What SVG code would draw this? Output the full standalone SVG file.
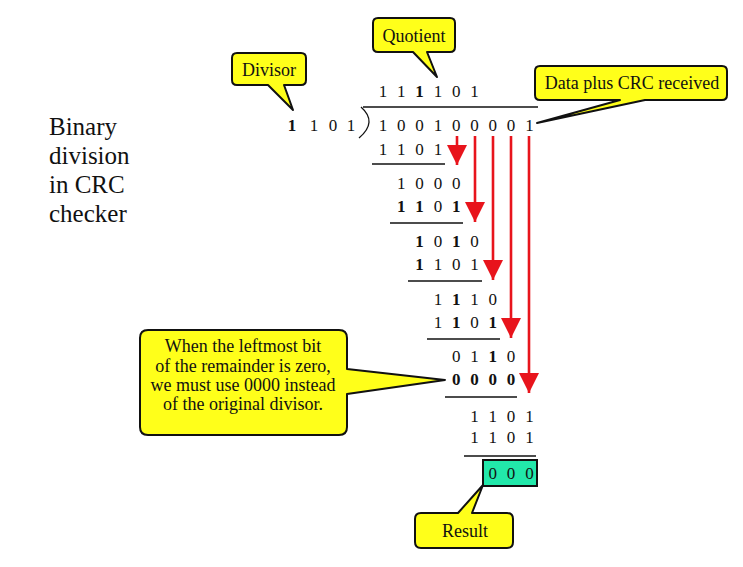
<svg xmlns="http://www.w3.org/2000/svg" width="743" height="567" viewBox="0 0 743 567">
<style>
  text{font-family:"Liberation Serif","DejaVu Serif",serif}
  .t{fill:#111}
  .d{font-size:17px;fill:#111;text-anchor:middle}
  .b{font-weight:bold}
  .call{fill:#ffff1a;stroke:#111;stroke-width:2;stroke-linejoin:round}
  .ct{font-size:18px;fill:#111;text-anchor:middle}
  .rule{stroke:#111;stroke-width:1.3;fill:none}
  .red{stroke:#e8141c;stroke-width:2.6;fill:none;marker-end:url(#ah)}
</style>
<defs>
  <marker id="ah" markerUnits="userSpaceOnUse" markerWidth="20" markerHeight="20" viewBox="0 0 20 20" refX="20" refY="10" orient="auto">
    <path d="M0,0 L20,10 L0,20 Z" fill="#e8141c"/>
  </marker>
</defs>
<rect width="743" height="567" fill="#fff"/>

<g id="title">
  <text class="t" font-size="25" x="49" y="135">Binary</text>
  <text class="t" font-size="25" x="49" y="164">division</text>
  <text class="t" font-size="25" x="49" y="193">in CRC</text>
  <text class="t" font-size="25" x="49" y="222">checker</text>
</g>

<g id="division">
  <path class="rule" d="M363,107 H538"/>
  <path class="rule" d="M361,107 Q378,122 359,138"/>
  <g id="divisor-digits">
    <text class="d b" x="292" y="131">1</text><text class="d" x="314" y="131">1</text><text class="d" x="333" y="131">0</text><text class="d" x="351" y="131">1</text>
  </g>
  <g id="quotient-digits">
    <text class="d" x="383" y="97">1</text><text class="d" x="401.3" y="97">1</text><text class="d b" x="419.6" y="97">1</text><text class="d" x="437.9" y="97">1</text><text class="d" x="456.2" y="97">0</text><text class="d" x="474.5" y="97">1</text>
  </g>
  <g id="dividend">
    <text class="d" x="383" y="131">1</text><text class="d" x="401.3" y="131">0</text><text class="d" x="419.6" y="131">0</text><text class="d" x="437.9" y="131">1</text><text class="d" x="456.2" y="131">0</text><text class="d" x="474.5" y="131">0</text><text class="d" x="492.8" y="131">0</text><text class="d" x="511.1" y="131">0</text><text class="d" x="529.4" y="131">1</text>
  </g>
  <g id="step1">
    <text class="d" x="383" y="155">1</text><text class="d" x="401.3" y="155">1</text><text class="d" x="419.6" y="155">0</text><text class="d" x="437.9" y="155">1</text>
    <path class="rule" d="M372,164 H445"/>
    <text class="d" x="401.3" y="189">1</text><text class="d" x="419.6" y="189">0</text><text class="d" x="437.9" y="189">0</text><text class="d" x="456.2" y="189">0</text>
  </g>
  <g id="step2">
    <text class="d b" x="401.3" y="212">1</text><text class="d b" x="419.6" y="212">1</text><text class="d" x="437.9" y="212">0</text><text class="d b" x="456.2" y="212">1</text>
    <path class="rule" d="M390,223 H463"/>
    <text class="d b" x="419.6" y="247">1</text><text class="d" x="437.9" y="247">0</text><text class="d b" x="456.2" y="247">1</text><text class="d" x="474.5" y="247">0</text>
  </g>
  <g id="step3">
    <text class="d b" x="419.6" y="270">1</text><text class="d" x="437.9" y="270">1</text><text class="d" x="456.2" y="270">0</text><text class="d" x="474.5" y="270">1</text>
    <path class="rule" d="M408,281 H482"/>
    <text class="d" x="437.9" y="305">1</text><text class="d b" x="456.2" y="305">1</text><text class="d" x="474.5" y="305">1</text><text class="d" x="492.8" y="305">0</text>
  </g>
  <g id="step4">
    <text class="d" x="437.9" y="328">1</text><text class="d b" x="456.2" y="328">1</text><text class="d" x="474.5" y="328">0</text><text class="d b" x="492.8" y="328">1</text>
    <path class="rule" d="M427,339 H500"/>
    <text class="d" x="456.2" y="362">0</text><text class="d" x="474.5" y="362">1</text><text class="d b" x="492.8" y="362">1</text><text class="d" x="511.1" y="362">0</text>
  </g>
  <g id="step5">
    <text class="d b" x="456.2" y="385">0</text><text class="d b" x="474.5" y="385">0</text><text class="d b" x="492.8" y="385">0</text><text class="d b" x="511.1" y="385">0</text>
    <path class="rule" d="M445,397 H517"/>
    <text class="d" x="474.5" y="422">1</text><text class="d" x="492.8" y="422">1</text><text class="d" x="511.1" y="422">0</text><text class="d" x="529.4" y="422">1</text>
  </g>
  <g id="step6">
    <text class="d" x="474.5" y="443">1</text><text class="d" x="492.8" y="443">1</text><text class="d" x="511.1" y="443">0</text><text class="d" x="529.4" y="443">1</text>
    <path class="rule" d="M464,456 H536" stroke="#555"/>
  </g>
  <g id="remainder">
    <rect x="483" y="460" width="54" height="26" fill="#22e8aa" stroke="#111" stroke-width="2"/>
    <text class="d" x="492.8" y="479">0</text><text class="d" x="511.1" y="479">0</text><text class="d" x="529.4" y="479">0</text>
  </g>
</g>

<g id="connectors">
  <path class="red" d="M457,136 V165"/>
  <path class="red" d="M475,136 V222"/>
  <path class="red" d="M493,136 V280"/>
  <path class="red" d="M511,136 V338"/>
  <path class="red" d="M529,136 V393"/>
</g>

<g id="quotient-callout">
  <path class="call" d="M378,18 H450 Q455,18 455,23 V47 Q455,52 450,52 H427 L437,77 L413,52 H378 Q373,52 373,47 V23 Q373,18 378,18 Z"/>
  <text class="ct" x="414" y="42">Quotient</text>
</g>

<g id="divisor-callout">
  <path class="call" d="M237,53 H301 Q306,53 306,58 V80 Q306,85 301,85 H284 L293,110 L268,85 H237 Q232,85 232,80 V58 Q232,53 237,53 Z"/>
  <text class="ct" x="269" y="76">Divisor</text>
</g>

<g id="data-callout">
  <path class="call" d="M540,66 H722 Q727,66 727,71 V95 Q727,100 722,100 H645 L537,123 L620,100 H540 Q535,100 535,95 V71 Q535,66 540,66 Z"/>
  <text class="ct" x="632" y="89">Data plus CRC received</text>
</g>

<g id="note-callout">
  <path class="call" d="M148,330 H339 Q347,330 347,338 V369 L445,380 L347,394 V427 Q347,435 339,435 H148 Q140,435 140,427 V338 Q140,330 148,330 Z"/>
  <text class="ct" x="243" y="352">When the leftmost bit</text>
  <text class="ct" x="243" y="372">of the remainder is zero,</text>
  <text class="ct" x="243" y="391">we must use 0000 instead</text>
  <text class="ct" x="243" y="410">of the original divisor.</text>
</g>

<g id="result-callout">
  <path class="call" d="M421,513 H458 L483,485 L472,513 H507 Q513,513 513,519 V542 Q513,548 507,548 H421 Q415,548 415,542 V519 Q415,513 421,513 Z"/>
  <text class="ct" x="465" y="537">Result</text>
</g>
</svg>
